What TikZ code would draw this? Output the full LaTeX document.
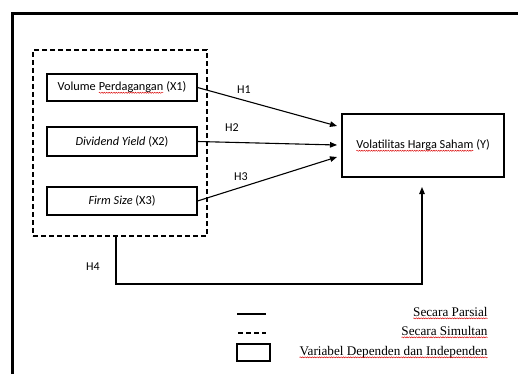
\documentclass[tikz,border=0pt]{standalone}
\usepackage{fontspec}
\setmainfont{Carlito}
\newfontfamily\tnr{Liberation Serif}
\usetikzlibrary{arrows.meta,decorations.pathmorphing}
\newcommand\redwave[1]{\tikz[baseline=(rw.base)]{\node[draw=none, minimum width=0pt, minimum height=0pt, inner sep=0pt, outer sep=0pt] (rw) {#1};\draw[red!85!black, line width=0.45pt, decorate, decoration={snake,amplitude=0.55pt,segment length=2.4pt}] ([yshift=-2.3pt]rw.base west) -- ([yshift=-2.3pt]rw.base east);}}
\tikzset{
  varbox/.style={draw, line width=1.1pt, minimum width=150pt, inner sep=0pt},
  conn/.style={line width=1.1pt, -{Triangle[length=7pt,width=5.5pt]}},
  lbl/.style={font=\fontsize{12}{14}\selectfont, inner sep=0pt},
  legtext/.style={font=\tnr\fontsize{13.2}{15}\selectfont, inner sep=0pt, anchor=east},
  dashbox/.style={draw, line width=1.5pt, dash pattern=on 5pt off 3pt}
}
\begin{document}
\begin{tikzpicture}[x=1pt,y=-1pt, font=\fontsize{12.3}{14}\selectfont]
\useasboundingbox (0,0) rectangle (518,374);
% outer frame (open to right and bottom)
\draw[line width=2.2pt] (12.5,374) -- (12.5,13.5) -- (518,13.5);
% dashed group
\node[dashbox, minimum width=174pt, minimum height=186pt, inner sep=0pt] (grp) at (120,143) {};
% variable boxes
\node[varbox, minimum height=27pt] (x1) at (122,87.5) {Volume \redwave{Perdagangan} (X1)};
\node[varbox, minimum height=29pt] (x2) at (122,141.5) {\textit{Dividend Yield} (X2)};
\node[varbox, minimum height=28pt] (x3) at (122,201) {\textit{Firm Size} (X3)};
\node[draw, line width=1.1pt, minimum width=162pt, minimum height=63pt, inner sep=0pt] (y) at (423,145.5) {\redwave{Volatilitas Harga Saham} (Y)};
% arrow targets
\coordinate (t1) at (337,126);
\coordinate (t2) at (337,145);
\coordinate (t3) at (337,157);
\coordinate (t4) at (422,187);
\draw[conn] (x1.east) -- (t1);
\draw[conn] (x2.east) -- (t2);
\draw[conn] (x3.east) -- (t3);
\draw[conn] (grp.south -| 116,0) -- (116,284) -- (422,284) -- (t4);
% labels
\node[lbl] (h1) at (244,89.5) {H1};
\node[lbl] (h2) at (232,128) {H2};
\node[lbl] (h3) at (241,177) {H3};
\node[lbl] (h4) at (93,267) {H4};
% legend
\coordinate (ls1) at (237,314); \coordinate (ls2) at (266,314);
\draw[line width=1.1pt] (ls1) -- (ls2);
\coordinate (ld1) at (238,333); \coordinate (ld2) at (266,333);
\draw[line width=1.5pt, dash pattern=on 5pt off 3pt] (ld1) -- (ld2);
\node[draw, line width=1.1pt, minimum width=33pt, minimum height=17pt, inner sep=0pt] (lb) at (253.5,352.5) {};
\node[legtext] (lt1) at (488,313) {\redwave{Secara Parsial}};
\node[legtext] (lt2) at (488,332) {\redwave{Secara Simultan}};
\node[legtext] (lt3) at (488,352) {\redwave{Variabel Dependen dan Independen}};
\end{tikzpicture}
\end{document}
